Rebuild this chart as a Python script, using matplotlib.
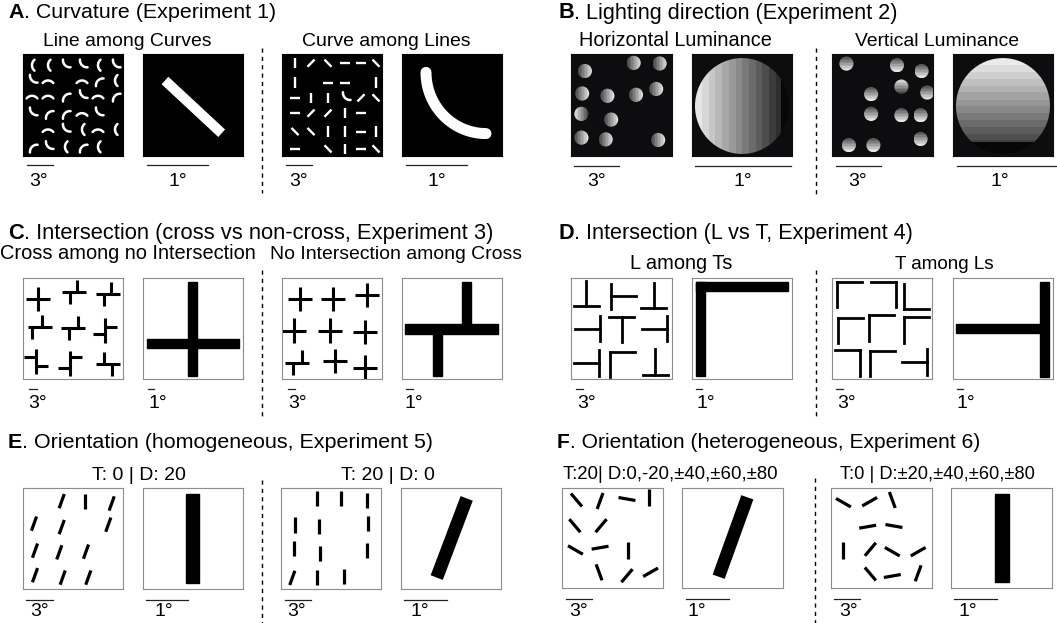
import numpy as np
import matplotlib
matplotlib.use('Agg')
import matplotlib.pyplot as plt
from matplotlib.patches import Circle, Rectangle, Polygon

W, H = 1057, 623
PT = 0.72  # points per pixel at 100 dpi

# ------------------------------------------------------------------ data
TITLE_LETTERS = ["A", "B", "C", "D", "E", "F"]
TITLE_TEXTS = [". Curvature (Experiment 1)", ". Lighting direction (Experiment 2)",
               ". Intersection (cross vs non-cross, Experiment 3)", ". Intersection (L vs T, Experiment 4)",
               ". Orientation (homogeneous, Experiment 5)", ". Orientation (heterogeneous, Experiment 6)"]
SUBTITLES = ["Line among Curves", "Curve among Lines", "Horizontal Luminance", "Vertical Luminance",
             "Cross among no Intersection", "No Intersection among Cross", "L among Ts", "T among Ls",
             "T: 0 | D: 20", "T: 20 | D: 0", "T:20| D:0,-20,\u00b140,\u00b160,\u00b180",
             "T:0 | D:\u00b120,\u00b140,\u00b160,\u00b180"]
SCALE_LABELS = ["3\u00b0", "1\u00b0", "3\u00b0", "1\u00b0"]

# A: line among curves (opening direction of each arc, deg; None = empty cell)
A1_COLS = [9, 25, 42, 59, 75, 92]
A1_ROWS = [11, 26, 41, 58, 74, 91]
A1_OPEN = [[0, 0, 45, 45, 0, 45],
           [45, 270, None, 270, 315, 0],
           [270, 270, 315, 45, 270, 315],
           [45, 315, 315, 270, 45, None],
           [None, 270, 45, 0, 270, 0],
           [315, 45, 0, 315, 0, None]]
# A: curve among lines (tilt from vertical, deg; 'C' = target curve)
A3_COLS = [13, 29, 46, 63, 79, 94]
A3_ROWS = [9, 28, 43, 58, 76, 93]
A3_TILT = [[0, 45, -45, 90, 90, -45],
           [0, None, 90, 90, None, 0],
           [90, 0, 0, 'C', 45, -45],
           [90, 45, 45, 0, 90, None],
           [-45, -45, 0, 0, 90, 0],
           [90, None, -45, 0, 90, -45]]

# B: shaded discs
B1_X = [13.7, 62, 87.7, 11, 36, 64.3, 84.3, 10.3, 39.7, 10.3, 34.3, 86.3]
B1_Y = [16.7, 8.7, 9.3, 38.7, 41, 40, 34.3, 58.7, 64.3, 82, 83.7, 84.3]
B1_TARGET = 7
B3_X = [14.3, 64.3, 88.7, 68.7, 38.7, 94.3, 38.7, 68.7, 87.7, 16.7, 41, 87.7]
B3_Y = [9.3, 11, 16.7, 32, 39.3, 37.7, 58.7, 60, 60, 89.3, 89.3, 83.3]
B3_TARGET = 3

# C: crosses / non-intersections (kind, stub offsets a, b)
C1_X = [15, 51, 84.7, 16.5, 50.3, 82.3, 13.3, 47.3, 85]
C1_Y = [21, 13.7, 16, 48.7, 49.3, 52, 82.7, 84.7, 85.3]
C1_KIND = ['h', 'h', 'h', 'h', 'h', 'v', 'v', 'v', 'h']
C1_A = [0, 3, 3, 2.5, 4.3, 3.3, -4.7, 4, -4.3]
C1_B = [0, -4, -4, -7.5, -4.7, -3.3, 4.3, -6, 4]
C3_X = [18, 51.3, 84.7, 12, 48, 83, 15.3, 53, 83]
C3_Y = [21, 21, 17, 52, 52, 53.7, 83.7, 82, 88.7]
C3_KIND = ['h'] * 9
C3_A = [0, 0, 0, 0, 0, 0, 4.3, 0, 0]
C3_B = [0, 0, 0, 0, 0, 0, -4, 0, 0]

# D: T and L junctions
D1_X = [15, 51.7, 82, 16, 50.3, 83, 15.7, 50.7, 83.3]
D1_Y = [15, 18.3, 17.5, 50.3, 51.2, 50.3, 84.2, 85.3, 83.2]
D1_SHAPE = ['bot', 'left_t', 'bot', 'right_t', 'top', 'right_t', 'right_t', 'G', 'bot']
D3_X = [17.2, 51.7, 84.2, 18.3, 49.2, 84.8, 15.8, 50.2, 82.5]
D3_Y = [16.5, 16.5, 18.3, 52, 49.5, 51.5, 84.2, 84.5, 83.2]
D3_SHAPE = ['G', 'R7', 'L', 'G', 'G', 'G', 'R7', 'G', 'right_t']

# E: orientation homogeneous
E1_X = [38.7, 62, 88.7, 11, 38.7, 85.3, 12, 36.3, 63, 12, 39.7, 65.3]
E1_Y = [13, 13, 15.3, 35.3, 38.7, 36.3, 62, 63.7, 63, 86.3, 88.7, 88.7]
E1_TILT = [20, 0, 20, 20, 20, 20, 20, 20, 20, 20, 20, 20]
E3_X = [36.3, 59.7, 85.7, 14, 38.3, 87.3, 13, 39, 85.7, 11.3, 36.3, 63]
E3_Y = [10, 10, 12.3, 36.7, 38.3, 35, 60, 65, 61.7, 89, 88.3, 87.7]
E3_TILT = [0, 0, 0, 0, 0, 0, 0, 0, 0, 20, 0, 0]

# F: orientation heterogeneous
F1_X = [14.3, 37.7, 64.3, 86, 12.7, 38.7, 13.3, 37.7, 65.3, 36.7, 64.3, 87.7]
F1_Y = [12, 13, 11, 9.7, 37.7, 37.7, 62, 59.7, 62, 84.3, 87.7, 84.3]
F1_TILT = [-40, 20, -80, 0, -40, 40, -60, 80, 0, -20, 40, 60]
F3_X = [12.3, 38.3, 60.7, 36.3, 62.3, 12.3, 39, 60.7, 86.3, 39, 60.7, 86.3]
F3_Y = [14.7, 13.7, 12, 38.7, 38, 62, 61.3, 63.7, 63.7, 86, 88, 85.3]
F3_TILT = [-60, 60, -20, 80, -80, 0, 40, -60, 60, -40, 80, 20]

# ------------------------------------------------------------------ layout
fig = plt.figure(figsize=(W / 100, H / 100), dpi=100)
fig.patch.set_facecolor('white')
plt.rcParams['font.family'] = ['Liberation Sans', 'DejaVu Sans']
ax0 = fig.add_axes([0, 0, 1, 1])
ax0.set_xlim(0, W)
ax0.set_ylim(H, 0)
ax0.axis('off')
renderer = fig.canvas.get_renderer()


def box(x, y, w, h, face, edge):
    ax = fig.add_axes([x / W, 1 - (y + h) / H, w / W, h / H])
    ax.set_facecolor(face)
    ax.set_xticks([])
    ax.set_yticks([])
    for s in ax.spines.values():
        s.set_edgecolor(edge)
        s.set_linewidth(0.8)
    ax.set_xlim(0, 100)
    ax.set_ylim(100, 0)
    return ax


def fix(ax):
    ax.set_xlim(0, 100)
    ax.set_ylim(100, 0)


def seg(ax, cx, cy, tilt, L, lw, color='k', cap='butt'):
    t = np.deg2rad(tilt)
    dx, dy = L / 2 * np.sin(t), L / 2 * np.cos(t)
    ax.plot([cx - dx, cx + dx], [cy + dy, cy - dy], color=color, lw=lw, solid_capstyle=cap)


def arc(ax, px, py, opening, r, span, lw, color):
    a = np.deg2rad(opening)
    cx, cy = px + r * np.cos(a), py - r * np.sin(a)
    t = np.deg2rad(np.linspace(opening + 180 - span / 2, opening + 180 + span / 2, 40))
    ax.plot(cx + r * np.cos(t), cy - r * np.sin(t), color=color, lw=lw, solid_capstyle='round')


def thick_bar(ax, x0, y0, x1, y1, w, color='k'):
    p0, p1 = np.array([x0, y0], float), np.array([x1, y1], float)
    d = (p1 - p0) / np.linalg.norm(p1 - p0)
    n = np.array([-d[1], d[0]]) * w / 2
    ax.add_patch(Polygon([p0 + n, p1 + n, p1 - n, p0 - n], closed=True, facecolor=color, edgecolor='none'))


def shaded_disc(ax, cx, cy, r, lo, hi, horizontal, nb=10, black_tail=0.0):
    f = np.floor(np.linspace(0, 1, 120, endpoint=False) * nb) / (nb - 1)
    g = lo + (hi - lo) * f
    if black_tail > 0:
        g[int(120 * (1 - black_tail)):] = 0.03
    img = np.tile(g, (120, 1)) if horizontal else np.tile(g[:, None], (1, 120))
    im = ax.imshow(img, extent=(cx - r, cx + r, cy + r, cy - r), cmap='gray', vmin=0, vmax=1,
                   interpolation='nearest', aspect='auto', zorder=2)
    im.set_clip_path(Circle((cx, cy), r, transform=ax.transData))


def cross_elem(ax, cx, cy, kind, a, b, L=12, lw=2.2):
    if kind == 'h':
        ax.plot([cx - L, cx + L], [cy, cy], 'k', lw=lw, solid_capstyle='butt')
        ax.plot([cx + a, cx + a], [cy - L, cy], 'k', lw=lw, solid_capstyle='butt')
        ax.plot([cx + b, cx + b], [cy, cy + L], 'k', lw=lw, solid_capstyle='butt')
    else:
        ax.plot([cx, cx], [cy - L, cy + L], 'k', lw=lw, solid_capstyle='butt')
        ax.plot([cx - L, cx], [cy + a, cy + a], 'k', lw=lw, solid_capstyle='butt')
        ax.plot([cx, cx + L], [cy + b, cy + b], 'k', lw=lw, solid_capstyle='butt')


SHAPES = {  # segments in units of half size s
    'bot': [((-1, 1), (1, 1)), ((0, -1), (0, 1))],
    'top': [((-1, -1), (1, -1)), ((0, -1), (0, 1))],
    'left_t': [((-1, -1), (-1, 1)), ((-1, 0), (1, 0))],
    'right_t': [((1, -1), (1, 1)), ((-1, 0), (1, 0))],
    'G': [((-1, -1), (-1, 1)), ((-1, -1), (1, -1))],
    'R7': [((-1, -1), (1, -1)), ((1, -1), (1, 1))],
    'L': [((-1, -1), (-1, 1)), ((-1, 1), (1, 1))],
}


def junction(ax, cx, cy, shape, s=12.5, lw=2.0):
    for (x0, y0), (x1, y1) in SHAPES[shape]:
        ax.plot([cx + s * x0, cx + s * x1], [cy + s * y0, cy + s * y1], 'k', lw=lw,
                solid_capstyle='projecting')


# ---------------- row A
aA = [box(x, 54, 100, 102, 'black', 'black') for x in [23, 143, 282, 402]]
for ri, row in enumerate(A1_OPEN):
    for ci, op in enumerate(row):
        if op is not None:
            arc(aA[0], A1_COLS[ci], A1_ROWS[ri], op, 7.0, 100, 1.8, 'white')
thick_bar(aA[1], 22, 26, 78.7, 77.7, 10, 'white')
for ri, row in enumerate(A3_TILT):
    for ci, t in enumerate(row):
        if t is None:
            continue
        if t == 'C':
            arc(aA[2], A3_COLS[ci], A3_ROWS[ri], 45, 7.0, 100, 1.8, 'white')
        else:
            seg(aA[2], A3_COLS[ci], A3_ROWS[ri], t, 10, 1.7, 'white')
tt = np.deg2rad(np.linspace(180, 270, 60))
aA[3].plot(84 + 60 * np.cos(tt), 18 - 60 * np.sin(tt), color='white', lw=11 * PT, solid_capstyle='round')
for ax in aA:
    fix(ax)

# ---------------- row B
bg = '#0d0d0f'
aB = [box(x, 54, w, 102, bg, bg) for x, w in zip([571, 692, 832, 953], [101, 100, 101, 100])]
for i, (x, y) in enumerate(zip(B1_X, B1_Y)):
    if i == B1_TARGET:
        shaded_disc(aB[0], x, y, 7, 0.9, 0.28, True)
    else:
        shaded_disc(aB[0], x, y, 7, 0.28, 0.9, True)
shaded_disc(aB[1], 50, 51, 47, 0.9, 0.12, True, nb=14, black_tail=0.08)
for i, (x, y) in enumerate(zip(B3_X, B3_Y)):
    if i == B3_TARGET:
        shaded_disc(aB[2], x, y, 7, 0.9, 0.28, False)
    else:
        shaded_disc(aB[2], x, y, 7, 0.28, 0.9, False)
shaded_disc(aB[3], 50, 51, 47, 0.92, 0.2, False, nb=14, black_tail=0.12)
for ax in aB:
    fix(ax)

# ---------------- row C
edge = '#8c8c8c'
aC = [box(x, 278, 100, 101, 'white', edge) for x in [23, 143, 282, 402]]
for x, y, k, a, b in zip(C1_X, C1_Y, C1_KIND, C1_A, C1_B):
    cross_elem(aC[0], x, y, k, a, b)
aC[1].add_patch(Rectangle((45, 4), 9, 93, color='k'))
aC[1].add_patch(Rectangle((4, 60), 92, 9, color='k'))
for x, y, k, a, b in zip(C3_X, C3_Y, C3_KIND, C3_A, C3_B):
    cross_elem(aC[2], x, y, k, a, b)
aC[3].add_patch(Rectangle((3, 46), 93, 9, color='k'))
aC[3].add_patch(Rectangle((59.5, 4), 9, 46, color='k'))
aC[3].add_patch(Rectangle((31, 50), 9, 47, color='k'))

# ---------------- row D
aD = [box(x, 278, w, 101, 'white', edge) for x, w in zip([571, 692, 832, 953], [101, 100, 100, 100])]
for x, y, s in zip(D1_X, D1_Y, D1_SHAPE):
    junction(aD[0], x, y, s)
aD[1].add_patch(Rectangle((4, 3.7), 9, 93.3, color='k'))
aD[1].add_patch(Rectangle((4, 3.7), 92, 9, color='k'))
for x, y, s in zip(D3_X, D3_Y, D3_SHAPE):
    junction(aD[2], x, y, s)
aD[3].add_patch(Rectangle((3, 45.5), 88, 9, color='k'))
aD[3].add_patch(Rectangle((87, 3.7), 9, 94, color='k'))

# ---------------- row E
aE = [box(x, 488, 100, 101, 'white', edge) for x in [23, 143, 281, 401]]
for x, y, t in zip(E1_X, E1_Y, E1_TILT):
    seg(aE[0], x, y, t, 15, 2.3)
aE[1].add_patch(Rectangle((42.7, 6), 13.6, 87.7, color='k'))
for x, y, t in zip(E3_X, E3_Y, E3_TILT):
    seg(aE[2], x, y, t, 15, 2.3)
thick_bar(aE[3], 65.7, 10.3, 35.7, 88.7, 13)

# ---------------- row F
aF = [box(x, 488, 101, 100, 'white', edge) for x in [562, 682, 831, 951]]
for x, y, t in zip(F1_X, F1_Y, F1_TILT):
    seg(aF[0], x, y, t, 17, 2.3)
thick_bar(aF[1], 64.7, 9.3, 36.3, 88.7, 12.7)
for x, y, t in zip(F3_X, F3_Y, F3_TILT):
    seg(aF[2], x, y, t, 17, 2.3)
aF[3].add_patch(Rectangle((44, 6), 13.3, 87.7, color='k'))
for ax in aC + aD + aE + aF:
    fix(ax)


# ---------------- text
def fit(x0, x1, yb, parts, size0=14):
    objs = [ax0.text(0, yb, s, fontsize=size0, fontweight=wgt, ha='left', va='baseline', color='k')
            for s, wgt in parts]
    ws = [o.get_window_extent(renderer=renderer).width for o in objs]
    k = (x1 - x0) / sum(ws)
    x = x0
    for o, w in zip(objs, ws):
        o.set_fontsize(size0 * k)
        o.set_x(x)
        x += w * k


TITLE_POS = [(8, 277, 18.5), (558, 900, 18.5), (8, 497, 239), (558, 915, 239), (8, 437, 448), (557, 982, 448)]
for (x0, x1, yb), L, T in zip(TITLE_POS, TITLE_LETTERS, TITLE_TEXTS):
    fit(x0, x1, yb, [(L, 'bold'), (T, 'normal')])

SUB_POS = [(43, 212, 46.5), (302, 471, 46.5), (579, 772, 46.5), (855, 1020, 46.5),
           (0, 257, 259), (270, 522, 259), (630, 733, 269), (895, 995, 269),
           (92, 186, 480), (341, 435, 480), (563, 779, 479), (840, 1035, 479)]
for (x0, x1, yb), s in zip(SUB_POS, SUBTITLES):
    fit(x0, x1, yb, [(s, 'normal')])

# scale bars: (row y, bars, label anchor, label baseline, ha)
SCALE_ROWS = [
    (165, [(27, 53), (147, 208), (286, 312), (406, 467)], [39, 177.5, 299, 436.5], 186.5, 'center'),
    (166, [(574, 619), (695, 791), (836, 881), (957, 1057)], [596.5, 743, 858, 1000], 186.5, 'center'),
    (389, [(29, 37), (148, 154), (288, 295), (406, 413)], [28, 148, 288, 405], 408, 'left'),
    (389, [(576, 583), (696, 702), (836, 843), (957, 963)], [577, 696, 837, 957], 408, 'left'),
    (600, [(26, 53), (146, 188), (285, 311), (404, 447)], [39.5, 163.5, 297, 420], 616.5, 'center'),
    (599, [(566, 592), (686, 729), (834, 860), (954, 997)], [578.5, 697, 849, 968], 616.5, 'center'),
]
for yb, bars, labs, ylab, ha in SCALE_ROWS:
    for (x0, x1), xl, s in zip(bars, labs, SCALE_LABELS):
        ax0.plot([x0, x1], [yb, yb], color='#222222', lw=0.9)
        ax0.text(xl, ylab, s, fontsize=14, ha=ha, va='baseline', color='k')

DASHED = [(262, 48, 193), (816, 48, 197), (262, 270, 417), (816, 270, 417), (262, 480, 623), (815, 478, 623)]
for x, y0, y1 in DASHED:
    ax0.plot([x, x], [y0, y1], color='k', lw=1.0, dashes=(3, 3))

fig.savefig('out.png', dpi=100, facecolor='white')
